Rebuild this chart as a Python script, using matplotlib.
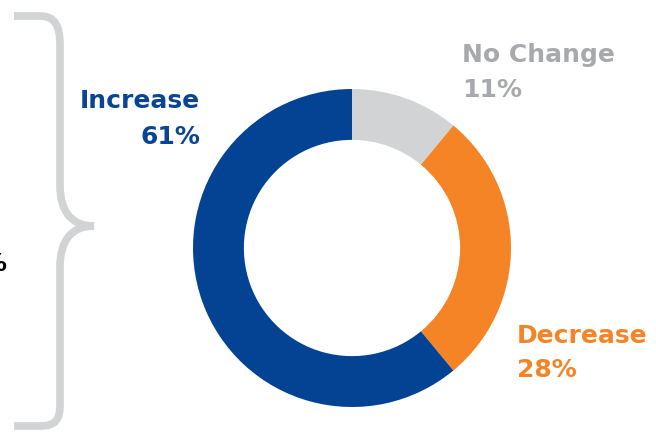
import matplotlib.pyplot as plt
from matplotlib.path import Path
from matplotlib.patches import PathPatch

labels = ["No Change", "Decrease", "Increase"]
shares = [11, 28, 61]
colors = ["#D1D3D4", "#F58426", "#044393"]
text_colors = ["#A7A9AC", "#F58426", "#0A4594"]

W, H = 656, 434
fig = plt.figure(figsize=(W / 100, H / 100), dpi=100)

# donut: centre (352, 248) px, outer radius 159 px
cx, cy, r = 352, 248, 159
ax = fig.add_axes([(cx - r) / W, (H - cy - r) / H, 2 * r / W, 2 * r / H])
ax.pie(shares, colors=colors, startangle=90, counterclock=False,
       wedgeprops=dict(width=0.32, linewidth=0))
ax.set_xlim(-1, 1)
ax.set_ylim(-1, 1)
ax.axis("off")

# overlay in pixel coordinates for brace and labels
ov = fig.add_axes([0, 0, 1, 1])
ov.set_xlim(0, W)
ov.set_ylim(H, 0)
ov.axis("off")

verts = [
    (14, 16), (40, 16),
    (55, 16), (60, 26), (60, 45),
    (60, 185),
    (60, 212), (72, 226), (94, 226),
    (72, 226), (60, 240), (60, 267),
    (60, 405),
    (60, 420), (55, 426), (40, 426),
    (14, 426),
]
codes = [Path.MOVETO, Path.LINETO,
         Path.CURVE4, Path.CURVE4, Path.CURVE4,
         Path.LINETO,
         Path.CURVE4, Path.CURVE4, Path.CURVE4,
         Path.CURVE4, Path.CURVE4, Path.CURVE4,
         Path.LINETO,
         Path.CURVE4, Path.CURVE4, Path.CURVE4,
         Path.LINETO]
ov.add_patch(PathPatch(Path(verts, codes), facecolor="none",
                       edgecolor="#D1D3D4", linewidth=5.5, capstyle="butt"))

# cut-off character at the left edge
ov.text(6, 264, "%", ha="right", va="center", fontsize=18,
        fontweight="bold", color="black")

fs = 18
ov.text(200, 108, labels[2], ha="right", va="baseline", fontsize=fs,
        fontweight="bold", color=text_colors[2])
ov.text(200, 144, f"{shares[2]}%", ha="right", va="baseline", fontsize=fs,
        fontweight="bold", color=text_colors[2])

ov.text(462, 62, labels[0], ha="left", va="baseline", fontsize=fs,
        fontweight="bold", color=text_colors[0])
ov.text(462, 97, f"{shares[0]}%", ha="left", va="baseline", fontsize=fs,
        fontweight="bold", color=text_colors[0])

ov.text(517, 343, labels[1], ha="left", va="baseline", fontsize=fs,
        fontweight="bold", color=text_colors[1])
ov.text(517, 377, f"{shares[1]}%", ha="left", va="baseline", fontsize=fs,
        fontweight="bold", color=text_colors[1])

fig.savefig("out.png", dpi=100)
